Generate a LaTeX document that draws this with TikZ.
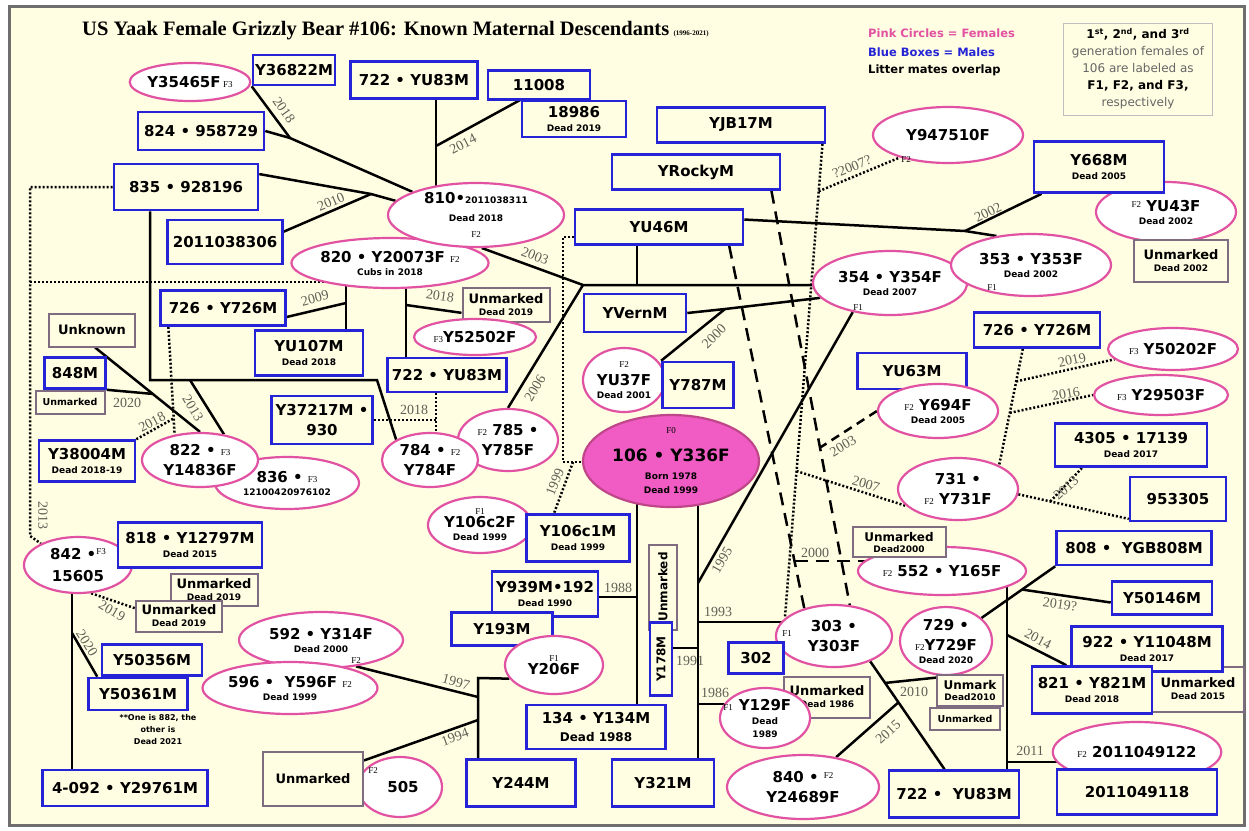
\documentclass[tikz,border=0pt]{standalone}
\usepackage{fontspec}
\setmainfont{DejaVu Sans}
\newfontfamily\yearfont{Liberation Serif}
\usepackage{xcolor}
\usepackage{tikz}
\usetikzlibrary{shapes.geometric, positioning, calc}
\definecolor{papercolor}{RGB}{255,253,226}
\definecolor{framecolor}{RGB}{110,110,110}
\definecolor{malecolor}{RGB}{36,36,214}
\definecolor{femalecolor}{RGB}{226,82,162}
\definecolor{unmarkedcolor}{RGB}{128,108,128}
\definecolor{rootcolor}{RGB}{240,92,196}
\definecolor{yearcolor}{RGB}{95,95,85}
\newcommand{\nodefont}{\fontsize{15}{16}\selectfont\bfseries}
\newcommand{\smallline}[1]{{\fontsize{9}{10}\selectfont #1}}
\newcommand{\fgen}[1]{{\yearfont\mdseries\fontsize{9}{9}\selectfont #1}}
\pgfdeclarelayer{paper}
\pgfdeclarelayer{links}
\pgfsetlayers{paper,links,main}

\begin{document}
\begin{tikzpicture}[x=1pt, y=-1pt,
    male/.style={draw=malecolor, line width=2.6pt, fill=papercolor, inner sep=1pt, align=center, font=\nodefont},
    female/.style={ellipse, draw=femalecolor, line width=2.2pt, fill=white, inner sep=0pt, align=center, font=\nodefont},
    unmarked/.style={draw=unmarkedcolor, line width=2pt, fill=papercolor, inner sep=1pt, align=center, font=\fontsize{13}{15}\selectfont\bfseries},
    sz/.style 2 args={minimum width=#1pt, minimum height=#2pt},
    link/.style={line width=2.5pt, black},
    dashline/.style={line width=2.5pt, dash pattern=on 13pt off 8pt},
    shortdash/.style={line width=2.5pt, dash pattern=on 9pt off 6pt},
    dotline/.style={line width=2.5pt, dash pattern=on 2pt off 2pt},
    yr/.style={font=\yearfont\fontsize{14}{14}\selectfont, text=yearcolor, inner sep=0pt},
    gen/.style={font=\yearfont\fontsize{9}{9}\selectfont, inner sep=0pt},
]
    \useasboundingbox (0,0) rectangle (1249,830);
    % Frame
    \begin{pgfonlayer}{paper}
        \fill[white] (0,0) rectangle (1249,830);
        \draw[draw=framecolor, fill=papercolor, line width=3pt] (9,6) rectangle (1244,825);
    \end{pgfonlayer}

    % Title and legend
    \node[anchor=base west, font=\yearfont\bfseries\fontsize{20.5}{21}\selectfont, inner sep=0pt] (title) at (82,35) {US Yaak Female Grizzly Bear \#106: Known Maternal Descendants};
    \node[anchor=base west, font=\yearfont\bfseries\fontsize{7}{7}\selectfont, inner sep=0pt, xshift=4pt] (span) at (title.base east) {(1996-2021)};
    \node[anchor=west, font=\fontsize{11.5}{12}\selectfont\bfseries, text=femalecolor, inner sep=0pt] (lgf) at (868,33) {Pink Circles = Females};
    \node[anchor=west, font=\fontsize{11.5}{12}\selectfont\bfseries, text=malecolor, inner sep=0pt] (lgm) at (868,52) {Blue Boxes = Males};
    \node[anchor=west, font=\fontsize{11.5}{12}\selectfont\bfseries, inner sep=0pt] (lgl) at (868,70) {Litter mates overlap};
    \node[draw=black!25, line width=0.8pt, fill=papercolor, sz={149}{92}, align=center, font=\fontsize{12}{17}\selectfont, text=black!60] (keybox) at (1138,69) {{\color{black}\bfseries 1\textsuperscript{st}, 2\textsuperscript{nd}, and 3\textsuperscript{rd}}\\ generation females of\\ 106 are labeled as\\ {\color{black}\bfseries F1, F2, and F3,}\\ respectively};

    % Top left family
    \node[female, sz={100}{38}] (f35465) at (190,82) {Y35465F\,\fgen{F3}};
    \node[male, sz={82}{30}] (y36822) at (294,70) {Y36822M};
    \node[male, sz={127}{37}] (yu83a) at (414,80) {722 • YU83M};
    \node[male, sz={102}{29}] (m11008) at (539,85) {11008};
    \node[male, sz={104}{36}] (m18986) at (574,119) {18986\\[-2pt]\smallline{Dead 2019}};
    \node[male, sz={126}{38}] (m824) at (201,131) {824 • 958729};
    \node[male, sz={144}{46}] (m835) at (186,187) {835 • 928196};
    \node[male, sz={115}{44}] (m2011306) at (225,242) {2011038306};
    \node[female, sz={196}{50}] (f820) at (390,263) {820 • Y20073F \fgen{F2}\\[-3pt]\smallline{Cubs in 2018}};
    \node[female, sz={176}{64}] (f810) at (476,215) {810•\smallline{2011038311}\\[2pt]\smallline{Dead 2018}\\\fgen{F2}};

    % Top centre males
    \node[male, sz={168}{35}] (myjb) at (741,125) {YJB17M};
    \node[male, sz={168}{35}] (mrocky) at (696,172) {YRockyM};
    \node[male, sz={168}{35}] (myu46) at (659,227) {YU46M};
    \node[male, sz={102}{38}] (myvern) at (635,313) {YVernM};

    % Top right family
    \node[female, sz={150}{56}] (f947510) at (948,135) {Y947510F};
    \node[female, sz={140}{60}] (fyu43) at (1166,212) {\raisebox{4pt}{\fgen{F2}} YU43F\\[-3pt]\smallline{Dead 2002}};
    \node[male, sz={130}{51}] (my668) at (1099,167) {Y668M\\[-2pt]\smallline{Dead 2005}};
    \node[unmarked, sz={94}{42}] (u2002) at (1181,261) {Unmarked\\[-3pt]\smallline{Dead 2002}};
    \node[female, sz={154}{64}] (f354) at (890,283) {354 • Y354F\\[-3pt]\smallline{Dead 2007}};
    \node[female, sz={160}{62}] (f353) at (1031,265) {353 • Y353F\\[-3pt]\smallline{Dead 2002}};

    % Left middle family
    \node[male, sz={125}{35}] (m726a) at (223,308) {726 • Y726M};
    \node[unmarked, sz={86}{33}] (uunknown) at (92,330) {Unknown};
    \node[male, sz={108}{45}] (myu107) at (309,353) {YU107M\\[-2pt]\smallline{Dead 2018}};
    \node[male, sz={61}{31}] (m848) at (75,373) {848M};
    \node[unmarked, sz={69}{23}, font=\fontsize{9.5}{10}\selectfont\bfseries] (u848) at (70,402) {Unmarked};
    \node[male, sz={96}{41}] (my38004) at (87,461) {Y38004M\\[-2pt]\smallline{Dead 2018-19}};
    \node[female, sz={144}{52}] (f836) at (287,483) {836 • \fgen{F3}\\[-3pt]\smallline{12100420976102}};
    \node[female, sz={116}{54}] (f822) at (200,460) {822 • \fgen{F3}\\[4pt]Y14836F};
    \node[male, sz={101}{48}] (my37217) at (322,420) {Y37217M •\\[4pt]930};
    \node[male, sz={119}{34}] (yu83b) at (447,375) {722 • YU83M};
    \node[unmarked, sz={87}{34}] (u2019a) at (506,305) {Unmarked\\[-3pt]\smallline{Dead 2019}};
    \node[female, sz={122}{36}] (f52502) at (475,337) {\fgen{F3}Y52502F};
    \node[female, sz={100}{62}] (f785) at (508,440) {\fgen{F2} 785 •\\[4pt]Y785F};
    \node[female, sz={96}{54}] (f784) at (430,460) {784 • \fgen{F2}\\[4pt]Y784F};

    % Female 106 and her mates
    \node[female, sz={82}{64}] (fyu37) at (624,380) {\fgen{F2}\\[2pt]YU37F\\[-3pt]\smallline{Dead 2001}};
    \node[male, sz={71}{46}] (my787) at (698,385) {Y787M};
    \node[female, fill=rootcolor, draw=femalecolor!85!black, sz={176}{92}, inner ysep=-4pt] (f106) at (671,461) {\fgen{F0}\\[12pt]{\fontsize{17}{18}\selectfont 106 • Y336F}\\[2pt]\smallline{Born 1978}\\[-2pt]\smallline{Dead 1999}};
    \node[female, sz={104}{56}] (fy106c2) at (480,525) {\fgen{F1}\\[-3pt]Y106c2F\\[-3pt]\smallline{Dead 1999}};
    \node[male, sz={103}{47}] (my106c1) at (578,538) {Y106c1M\\[-2pt]\smallline{Dead 1999}};
    \node[male, sz={106}{45}] (my939) at (545,594) {Y939M•192\\[-2pt]\smallline{Dead 1990}};
    \node[male, sz={101}{33}] (my193) at (502,629) {Y193M};
    \node[female, sz={98}{58}] (fy206) at (554,665) {\fgen{F1}\\[-3pt]Y206F};
    \node[male, sz={139}{44}] (m134) at (596,727) {134 • Y134M\\[2pt]{\fontsize{12}{13}\selectfont Dead 1988}};
    \node[male, sz={109}{47}] (my244) at (521,783) {Y244M};
    \node[male, sz={102}{47}] (my321) at (663,783) {Y321M};
    \node[unmarked, rotate=90, sz={85}{28}, font=\fontsize{12}{13}\selectfont\bfseries] (uvert) at (663,587) {Unmarked};
    \node[male, rotate=90, sz={73}{22}, font=\fontsize{12}{13}\selectfont\bfseries] (my178) at (661,659) {Y178M};

    % Right middle family
    \node[male, sz={109}{36}] (myu63) at (912,371) {YU63M};
    \node[female, sz={120}{54}] (f694) at (938,411) {\fgen{F2} Y694F\\[-3pt]\smallline{Dead 2005}};
    \node[male, sz={126}{35}] (m726b) at (1037,330) {726 • Y726M};
    \node[female, sz={130}{42}] (f50202) at (1173,349) {\fgen{F3} Y50202F};
    \node[female, sz={134}{40}] (f29503) at (1161,395) {\fgen{F3} Y29503F};
    \node[male, sz={152}{43}] (m4305) at (1131,445) {4305 • 17139\\[-2pt]\smallline{Dead 2017}};
    \node[female, sz={120}{62}] (f731) at (958,489) {731 •\\[4pt]\fgen{F2} Y731F};
    \node[male, sz={96}{44}] (m953305) at (1178,499) {953305};

    % Lower right family
    \node[female, sz={116}{62}] (f303) at (834,636) {303 •\\[4pt]Y303F};
    \node[male, sz={55}{31}] (m302) at (756,658) {302};
    \node[female, sz={168}{48}] (f552) at (942,571) {\fgen{F2} 552 • Y165F};
    \node[unmarked, sz={93}{30}, font=\fontsize{12}{14}\selectfont\bfseries] (u2000) at (899,542) {Unmarked\\[-3pt]\smallline{Dead2000}};
    \node[male, sz={155}{34}] (m808) at (1134,548) {808 •\ \ YGB808M};
    \node[male, sz={100}{33}] (my50146) at (1162,598) {Y50146M};
    \node[female, sz={92}{68}] (f729) at (946,641) {729 •\\[4pt]\fgen{F2}Y729F\\[-3pt]\smallline{Dead 2020}};
    \node[unmarked, sz={92}{45}] (u2015) at (1198,689) {Unmarked\\[-3pt]\smallline{Dead 2015}};
    \node[male, sz={151}{45}] (m922) at (1147,649) {922 • Y11048M\\[-2pt]\smallline{Dead 2017}};
    \node[male, sz={120}{47}] (m821) at (1092,690) {821 • Y821M\\[-2pt]\smallline{Dead 2018}};
    \node[unmarked, sz={66}{31}, font=\fontsize{12}{14}\selectfont\bfseries] (u2010a) at (970,690) {Unmark\\[-3pt]\smallline{Dead2010}};
    \node[unmarked, sz={70}{22}, font=\fontsize{9.5}{10}\selectfont\bfseries] (u2010b) at (965,719) {Unmarked};
    \node[unmarked, sz={86}{41}] (u1986) at (827,697) {Unmarked\\[-3pt]\smallline{Dead 1986}};
    \node[female, sz={90}{60}] (fy129) at (765,718) {Y129F\\[-2pt]\smallline{Dead}\\[-3pt]\smallline{1989}};
    \node[female, sz={152}{64}] (f840) at (803,787) {840 • \raisebox{4pt}{\fgen{F2}}\\[4pt]Y24689F};
    \node[male, sz={130}{47}] (yu83c) at (954,794) {722 •\ \ YU83M};
    \node[female, sz={166}{60}] (f49122) at (1137,752) {\fgen{F2} 2011049122};
    \node[male, sz={160}{45}] (m49118) at (1137,792) {2011049118};

    % Lower left family
    \node[female, sz={108}{56}] (f842) at (78,565) {842 •\raisebox{5pt}{\fgen{F3}}\\[6pt]15605};
    \node[male, sz={144}{45}] (m818) at (190,545) {818 • Y12797M\\[-2pt]\smallline{Dead 2015}};
    \node[unmarked, sz={87}{32}] (u2019b) at (214,590) {Unmarked\\[-3pt]\smallline{Dead 2019}};
    \node[unmarked, sz={86}{31}] (u2019c) at (179,616) {Unmarked\\[-3pt]\smallline{Dead 2019}};
    \node[male, sz={100}{31}] (my50356) at (152,660) {Y50356M};
    \node[male, sz={99}{32}] (my50361) at (138,694) {Y50361M};
    \node[font=\fontsize{8}{12}\selectfont\bfseries, align=center, inner sep=0pt] (note) at (158,730) {**One is 882, the\\other is\\Dead 2021};
    \node[male, sz={165}{36}] (m4092) at (125,788) {4-092 • Y29761M};
    \node[female, sz={164}{56}] (f592) at (321,640) {592 • Y314F\\[-3pt]\smallline{Dead 2000}};
    \node[female, sz={174}{52}] (f596) at (290,688) {596 •\ \ Y596F \fgen{F2}\\[-3pt]\smallline{Dead 1999}};
    \node[female, sz={84}{60}] (f505) at (400,787) {\hspace*{6pt}505};
    \node[unmarked, sz={100}{54}] (u505) at (313,779) {Unmarked};

    % Generation marks
    \node[gen] (g354) at (858,308) {F1};
    \node[gen] (g353) at (992,288) {F1};
    \node[gen] (g947510) at (906,160) {F2};
    \node[gen] (g592) at (356,661) {F2};
    \node[gen] (g505) at (373,771) {F2};
    \node[gen] (g303) at (787,634) {F1};
    \node[gen] (g129) at (728,708) {F1};

    % Links
    \begin{pgfonlayer}{links}
        \coordinate (j1) at (290,138);
        \coordinate (j2) at (371,194);
        \coordinate (j3) at (436,146);
        \draw[link] (y36822.south west) -- (j1) -- (f810.160);
        \draw[link] (m824.east) -- (j1);
        \draw[link] (m835.10) -- (j2) -- (f810.170);
        \draw[link] (m2011306.10) -- (j2);
        \draw[link] (yu83a.south -| j3) -- (f810.center -| j3);
        \draw[link] (m18986.north west) -- (j3);

        \coordinate (j4) at (583,285);
        \coordinate (j5) at (637,285);
        \coordinate (j6) at (965,231);
        \coordinate (j7) at (725,309);
        \draw[link] (f810.-80) -- (j4) -- (j4 -| f354.center);
        \draw[link] (f785.north) -- (j4);
        \draw[link] (myu46.south -| j5) -- (j5);
        \draw[link] (myu46.5) -- (j6) -- (f353.140);
        \draw[link] (my668.-155) -- (j6);
        \draw[link] (myvern.east) -- (j7) -- (f354.192);
        \draw[link] (my787.north west) -- (j7);

        \coordinate (v1988) at (637,597);
        \coordinate (v1995) at (698,583);
        \coordinate (v1993) at (698,622);
        \coordinate (v1991) at (698,648);
        \coordinate (v1986) at (698,704);
        \draw[link] (f106.center -| v1988) -- (m134.north -| v1988);
        \draw[link] (my939.east |- v1988) -- (v1988);
        \draw[link] (f106.center -| v1995) -- (my321.north -| v1995);
        \draw[link] (v1995) -- (f354.-142);
        \draw[link] (v1993) -- (v1993 -| f303.center);
        \draw[link] (my178.center |- v1991) -- (v1991);
        \draw[link] (v1986) -- (v1986 -| fy129.center);

        \coordinate (p1) at (563,237);
        \coordinate (p2) at (563,462);
        \coordinate (p3) at (573,462);
        \draw[dotline] (myu46.west |- p1) -- (p1) -- (p2) -- (f106.west |- p2);
        \draw[dotline] (p3) -- (my106c1.134);
        \draw[dashline] (myu46.-15) -- (f303.137);
        \draw[dashline] (mrocky.-14) -- (f303.63);
        \coordinate (d2003) at ($(mrocky.-14)!0.62!(f303.63)$);
        \coordinate (d2000) at ($(myu46.-15)!0.87!(f303.137)$);
        \draw[shortdash] (f694.west) -- (d2003);
        \draw[dashline] (d2000) -- (d2000 -| f552.center);
        \draw[dotline] (myjb.-13) -- (f303.160);
        \coordinate (q2007) at ($(myjb.-13)!0.69!(f303.160)$);
        \coordinate (q07b) at ($(myjb.-13)!0.1!(f303.160)$);
        \draw[dotline] (q2007) -- (f731.-162);
        \draw[dotline] (q07b) -- (f947510.-155);

        \draw[dotline] (m726b.-127) -- (f731.30);
        \coordinate (r2019) at ($(m726b.-127)!0.28!(f731.30)$);
        \coordinate (r2016) at ($(m726b.-127)!0.55!(f731.30)$);
        \draw[dotline] (r2019) -- (f50202.-170);
        \draw[dotline] (r2016) -- (f29503.west);
        \draw[dotline] (f731.-5) -- (m953305.-158);
        \coordinate (r2013) at ($(f731.-5)!0.29!(m953305.-158)$);
        \draw[dotline] (r2013) -- (m4305.-155);

        \coordinate (c1) at (1007,600);
        \coordinate (c2011) at (1007,762);
        \coordinate (c2014) at (1007,635);
        \draw[link] (f552.center -| c1) -- (yu83c.north -| c1);
        \draw[link] (c2011) -- (c2011 -| f49122.center);
        \draw[link] (c2014) -- (m821.136);
        \draw[link] (m808.south west) -- (f729.33);
        \coordinate (c2019) at ($(m808.south west)!0.45!(f729.33)$);
        \draw[link] (c2019) -- (my50146.-175);
        \draw[link] (f303.-35) -- (yu83c.111);
        \coordinate (c2010) at ($(f303.-35)!0.2!(yu83c.111)$);
        \coordinate (c2015) at ($(f303.-35)!0.38!(yu83c.111)$);
        \draw[link] (c2010) -- (u2010a.160);
        \draw[link] (f840.42) -- (c2015);

        \coordinate (b2) at (478,678);
        \coordinate (b3) at (478,697);
        \coordinate (b4) at (478,720);
        \draw[link] (fy206.-163) -- (b2) -- (my244.north -| b2);
        \draw[link] (f592.-37) -- (b3);
        \draw[link] (u505.20) -- (b4);

        \coordinate (b1) at (72,633);
        \draw[link] (f842.center -| b1) -- (m4092.north -| b1);
        \draw[link] (b1) -- (my50361.157);
        \draw[dotline] (f842.-65) -- (u2019c.170);

        \coordinate (l1) at (30,187);
        \coordinate (l2) at (30,282);
        \draw[dotline] (m835.west) -- (l1) -- (l1 |- f842.north) -- (f842.150);
        \draw[dotline] (l2) -- (l2 -| f820.center);
        \coordinate (k1) at (150,380);
        \coordinate (k2) at (377,380);
        \coordinate (k3) at (190,380);
        \draw[link] (m835.south -| k1) -- (k1) -- (k2) -- (f784.149);
        \draw[link] (k3) -- (f822.47);
        \draw[link] (uunknown.-80) -- (f822.north);
        \coordinate (k4) at ($(uunknown.-80)!0.55!(f822.north)$);
        \draw[link] (m848.south east) -- (k4);
        \draw[dotline] (m726a.-161) -- (f822.135);
        \coordinate (k5) at ($(m726a.-161)!0.85!(f822.135)$);
        \draw[dotline] (my38004.north east) -- (k5);
        \coordinate (k6) at (346,303);
        \draw[link] (m726a.-8) -- (k6);
        \draw[link] (f820.center -| k6) -- (myu107.north -| k6);
        \coordinate (k7) at (406,305);
        \draw[link] (f820.center -| k7) -- (yu83b.north -| k7);
        \draw[link] (k7) -- (u2019a.-170);
        \coordinate (k8) at (436,420);
        \draw[dotline] (yu83b.south -| k8) -- (f784.north -| k8);
        \draw[dotline] (my37217.east |- k8) -- (k8);
    \end{pgfonlayer}

    % Years
    \node[yr, rotate=-55] (t2018a) at (284,110) {2018};
    \node[yr, rotate=23] (t2010a) at (331,202) {2010};
    \node[yr, rotate=27] (t2014a) at (463,144) {2014};
    \node[yr, rotate=-21] (t2003a) at (535,256) {2003};
    \node[yr, rotate=59] (t2006) at (535,388) {2006};
    \node[yr, rotate=26] (t2002) at (988,212) {2002};
    \node[yr, rotate=45] (t2000a) at (714,336) {2000};
    \node[yr, rotate=60] (t1995) at (722,560) {1995};
    \node[yr] (t1993) at (718,612) {1993};
    \node[yr] (t1991) at (690,661) {1991};
    \node[yr] (t1986) at (715,693) {1986};
    \node[yr] (t1988) at (618,588) {1988};
    \node[yr, rotate=68] (t1999) at (555,482) {1999};
    \node[yr, rotate=31] (t2003b) at (843,446) {2003};
    \node[yr] (t2000b) at (815,553) {2000};
    \node[yr, rotate=-16] (t2007a) at (866,484) {2007};
    \node[yr, rotate=22] (t2007b) at (852,167) {?2007?};
    \node[yr, rotate=12] (t2019a) at (1072,360) {2019};
    \node[yr, rotate=10] (t2016) at (1066,394) {2016};
    \node[yr, rotate=42] (t2013a) at (1066,488) {2013};
    \node[yr, rotate=-8] (t2019b) at (1060,604) {2019?};
    \node[yr, rotate=-28] (t2014b) at (1038,639) {2014};
    \node[yr] (t2011) at (1030,751) {2011};
    \node[yr] (t2010b) at (914,692) {2010};
    \node[yr, rotate=42] (t2015) at (888,732) {2015};
    \node[yr, rotate=-15] (t1997) at (456,682) {1997};
    \node[yr, rotate=20] (t1994) at (455,737) {1994};
    \node[yr, rotate=-58] (t2020a) at (87,643) {2020};
    \node[yr, rotate=-30] (t2019c) at (112,611) {2019};
    \node[yr, rotate=-90] (t2013b) at (43,515) {2013};
    \node[yr] (t2020b) at (127,403) {2020};
    \node[yr, rotate=28] (t2018b) at (152,422) {2018};
    \node[yr, rotate=-59] (t2013c) at (193,408) {2013};
    \node[yr, rotate=15] (t2009) at (315,298) {2009};
    \node[yr, rotate=-8] (t2018c) at (440,296) {2018};
    \node[yr] (t2018d) at (414,410) {2018};
\end{tikzpicture}
\end{document}
